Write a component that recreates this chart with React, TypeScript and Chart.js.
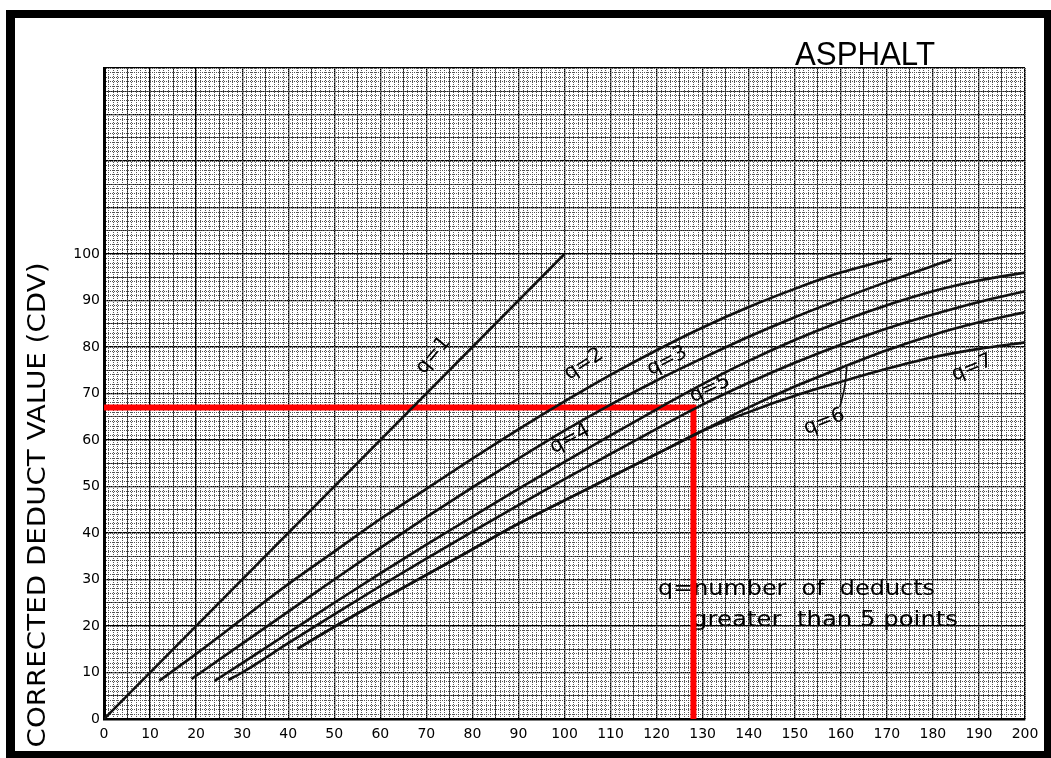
import { useEffect, useRef } from "react";
import { Chart, registerables } from "chart.js";

Chart.register(...registerables);

// ---- axis ticks ----
const xTickValues = [0, 10, 20, 30, 40, 50, 60, 70, 80, 90, 100, 110, 120, 130, 140, 150, 160, 170, 180, 190, 200];
const yGridValues = [0, 10, 20, 30, 40, 50, 60, 70, 80, 90, 100, 110, 120, 130, 140];
const yTickLabels = ["0", "10", "20", "30", "40", "50", "60", "70", "80", "90", "100"];

// ---- curves: total deduct value (x) -> corrected deduct value (y) ----
const q1X = [0, 100];
const q1Y = [0, 100];

const q2X = [12, 20, 30, 40, 50, 60, 70, 80, 90, 100, 110, 120, 130, 140, 150, 160, 171];
const q2Y = [8.2, 14, 21.5, 29, 36, 43, 49.5, 56, 62.3, 68.3, 74, 79.3, 84.2, 88.6, 92.5, 96, 99];

const q3X = [19, 30, 40, 50, 60, 70, 80, 90, 100, 110, 120, 130, 140, 150, 160, 170, 184];
const q3Y = [8.6, 16.2, 23.1, 30, 36.8, 43.4, 49.8, 56, 62, 67.6, 72.8, 77.6, 82.2, 86.4, 90.3, 94, 98.8];

const q4X = [24, 30, 40, 50, 60, 70, 80, 90, 100, 110, 120, 130, 140, 150, 160, 170, 180, 190, 200];
const q4Y = [8.2, 12, 18.5, 25, 31.3, 37.5, 43.5, 49.5, 55.3, 61, 66.6, 72, 77, 81.5, 85.5, 89, 92, 94.3, 96];

const q5X = [27, 30, 40, 50, 60, 70, 80, 90, 100, 110, 120, 130, 140, 150, 160, 170, 180, 190, 200];
const q5Y = [8.4, 10, 16.3, 22.5, 28.6, 34.5, 40.3, 46, 51.6, 57, 62.4, 67.6, 72.3, 76.6, 80.5, 84, 87, 89.7, 92];

// q=6 and q=7 share their lower part
const q67BaseX = [42, 50, 60, 70, 80, 90, 100, 110, 120, 130];
const q67BaseY = [15.1, 19.8, 25.5, 31, 36.5, 42, 47, 52, 57, 62];
const q6TailX = [140, 150, 160, 170, 180, 190, 200];
const q6TailY = [67, 71.5, 75.5, 79.3, 82.6, 85.3, 87.5];
const q7TailX = [140, 150, 160, 170, 180, 190, 200];
const q7TailY = [66, 69.5, 72.5, 75.3, 77.8, 79.6, 81];

// leader from the "q=6" label to its curve
const leaderX = [161.3, 161.0, 159.8];
const leaderY = [75.7, 72.5, 67.1];

// worked example (red)
const readX = [0, 128, 128];
const readY = [67, 67, 0];

// ---- annotations ----
const curveLabels = ["q=1", "q=2", "q=3", "q=4", "q=5", "q=6", "q=7"];
const curveLabelX = [71.5, 104.2, 122.3, 101.2, 131.6, 156.4, 188.5];
const curveLabelY = [78.2, 76.3, 77, 60.2, 71, 63.9, 75.5];
const curveLabelAngle = [-50, -33, -27, -28, -25, -21, -22];

const noteLines = ["q=number  of  deducts", "greater  than 5 points"];
const noteX = [120.3, 127.7];
const noteY = [26.7, 20.0];

const chartTitle = "ASPHALT";
const yTitle = "CORRECTED DEDUCT VALUE (CDV)";

const pts = (xs: number[], ys: number[]) => xs.map((x, i) => ({ x, y: ys[i] }));

function fitText(ctx: CanvasRenderingContext2D, text: string, x: number, y: number, w: number, font: string, center = false) {
  ctx.font = font;
  const m = ctx.measureText(text).width;
  ctx.save();
  ctx.translate(x, y);
  ctx.scale(w / m, 1);
  ctx.textAlign = "left";
  ctx.fillText(text, center ? -m / 2 : 0, 0);
  ctx.restore();
}

const paperPlugin = {
  id: "paper",
  beforeDraw(chart: any) {
    const ctx: CanvasRenderingContext2D = chart.ctx;
    ctx.save();
    ctx.fillStyle = "#fff";
    ctx.fillRect(0, 0, chart.width, chart.height);
    // frame
    ctx.fillStyle = "#000";
    ctx.fillRect(6, 10, 1045, 8);
    ctx.fillRect(6, 10, 9, 748);
    ctx.fillRect(1044, 10, 7, 748);
    ctx.fillRect(6, 751, 1045, 7);
    // title
    ctx.fillStyle = "#000";
    ctx.textBaseline = "alphabetic";
    fitText(ctx, chartTitle, 795, 65, 140, "34px 'Liberation Sans'");
    // y title
    ctx.save();
    ctx.translate(45, 505);
    ctx.rotate(-Math.PI / 2);
    fitText(ctx, yTitle, 0, 0, 485, "24px 'DejaVu Sans'", true);
    ctx.restore();
    ctx.restore();
  },
  beforeDatasetsDraw(chart: any) {
    const ctx: CanvasRenderingContext2D = chart.ctx;
    const xs = chart.scales.x;
    const ys = chart.scales.y;
    ctx.save();
    ctx.fillStyle = "#000";
    ctx.textAlign = "center";
    ctx.textBaseline = "middle";
    ctx.font = "20px 'DejaVu Sans'";
    curveLabels.forEach((t, i) => {
      ctx.save();
      ctx.translate(xs.getPixelForValue(curveLabelX[i]), ys.getPixelForValue(curveLabelY[i]));
      ctx.rotate((curveLabelAngle[i] * Math.PI) / 180);
      ctx.fillText(t, 0, 0);
      ctx.restore();
    });
    ctx.textBaseline = "alphabetic";
    const noteW = [277, 266];
    noteLines.forEach((t, i) => {
      fitText(ctx, t, xs.getPixelForValue(noteX[i]), ys.getPixelForValue(noteY[i]), noteW[i], "22px 'DejaVu Sans'");
    });
    ctx.restore();
  },
};

const tickFont = { family: "'DejaVu Sans'", size: 14 };

function extraAxis(kind: "x" | "y", values: number[], color: string, width: number, z: number, dash: number[]) {
  return {
    type: "linear" as const,
    axis: kind,
    position: kind === "x" ? ("bottom" as const) : ("left" as const),
    min: 0,
    max: kind === "x" ? 200 : 140,
    z,
    afterBuildTicks: (s: any) => {
      s.ticks = values.map((v) => ({ value: v }));
    },
    afterFit: (s: any) => {
      if (kind === "x") s.height = 0;
      else s.width = 0;
    },
    ticks: { display: false },
    grid: { color, lineWidth: width, drawTicks: false },
    border: { display: false, dash },
  };
}

const range = (a: number, b: number, step: number) => {
  const out: number[] = [];
  for (let v = a; v <= b + 1e-9; v += step) out.push(v);
  return out;
};

export default function App() {
  const ref = useRef<HTMLCanvasElement>(null);
  useEffect(() => {
    const canvas = ref.current!;
    const curveStyle = {
      borderColor: "#111",
      borderWidth: 2.6,
      pointRadius: 0,
      showLine: true,
      fill: false,
      cubicInterpolationMode: "monotone" as const,
    };
    const chart = new Chart(canvas, {
      type: "scatter",
      data: {
        datasets: [
          { ...curveStyle, label: "q=1", data: pts(q1X, q1Y) },
          { ...curveStyle, label: "q=2", data: pts(q2X, q2Y) },
          { ...curveStyle, label: "q=3", data: pts(q3X, q3Y) },
          { ...curveStyle, label: "q=4", data: pts(q4X, q4Y) },
          { ...curveStyle, label: "q=5", data: pts(q5X, q5Y) },
          { ...curveStyle, label: "q=6", data: pts([...q67BaseX, ...q6TailX], [...q67BaseY, ...q6TailY]) },
          { ...curveStyle, label: "q=7", data: pts([...q67BaseX, ...q7TailX], [...q67BaseY, ...q7TailY]) },
          { ...curveStyle, label: "leader", borderWidth: 1.6, data: pts(leaderX, leaderY) },
          {
            label: "reading",
            data: pts(readX, readY),
            showLine: true,
            borderColor: "rgb(255,0,0)",
            borderWidth: 6,
            pointRadius: 0,
            tension: 0,
            borderJoinStyle: "miter" as const,
          },
        ],
      },
      options: {
        animation: false,
        responsive: false,
        devicePixelRatio: 1,
        layout: { padding: { left: 54, top: 68, right: 26, bottom: 9 } },
        plugins: { legend: { display: false }, tooltip: { enabled: false } },
        scales: {
          x: {
            type: "linear",
            position: "bottom",
            min: 0,
            max: 200,
            z: 0,
            afterBuildTicks: (s: any) => {
              s.ticks = xTickValues.map((v) => ({ value: v }));
            },
            afterFit: (s: any) => {
              s.height = 30;
            },
            ticks: { color: "#000", font: tickFont, padding: 7, maxRotation: 0, autoSkip: false },
            grid: { color: "#000", lineWidth: 1.3, drawTicks: false },
            border: { color: "#000", width: 2.6 },
          },
          y: {
            type: "linear",
            position: "left",
            min: 0,
            max: 140,
            z: 0,
            afterBuildTicks: (s: any) => {
              s.ticks = yGridValues.map((v) => ({ value: v }));
            },
            afterFit: (s: any) => {
              s.width = 50;
            },
            ticks: {
              color: "#000",
              font: tickFont,
              padding: 4,
              autoSkip: false,
              callback: (_v: any, i: number) => (i < yTickLabels.length ? yTickLabels[i] : ""),
            },
            grid: { color: "#000", lineWidth: 1.3, drawTicks: false },
            border: { color: "#000", width: 3 },
          },
          xMid: extraAxis("x", range(5, 195, 10), "#222", 1, -1, []),
          yMid: extraAxis("y", range(5, 135, 10), "#222", 1, -1, []),
          xMinor: extraAxis("x", range(0, 200, 1), "#555", 1, -2, [1, 1]),
          yMinor: extraAxis("y", range(0, 140, 1), "#555", 1, -2, [1, 1]),
        } as any,
      },
      plugins: [paperPlugin],
    });
    return () => chart.destroy();
  }, []);
  return (
    <div style={{ position: "absolute", left: 0, top: 0, width: 1051, height: 758, background: "#fff" }}>
      <canvas ref={ref} width={1051} height={758} style={{ display: "block", width: 1051, height: 758 }} />
    </div>
  );
}
